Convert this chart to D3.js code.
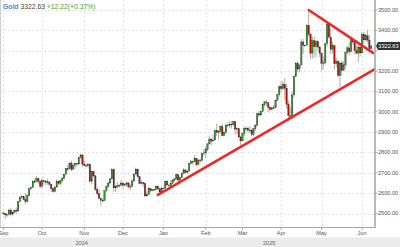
<!DOCTYPE html>
<html>
<head>
<meta charset="utf-8">
<script src="https://cdn.jsdelivr.net/npm/d3@7"></script>
<style>
  body { margin: 0; background: #fff; }
  svg { display: block; font-family: "Liberation Sans", Arial, sans-serif; }
</style>
</head>
<body>
<svg width="400" height="247"></svg>
<script>
// daily spot gold, Sep 2 2024 .. Jun 9 2025 (weekdays)
const firstDay = "2024-09-02";
const lastDay = "2025-06-09";
const firstOpen = 2503;

const closes = [
  // Sep
  2499, 2493, 2495, 2517, 2497, 2506, 2516, 2512, 2558, 2578, 2582, 2569, 2559, 2587, 2622, 2628, 2657, 2657, 2672, 2658, 2634,
  // Oct
  2662, 2657, 2656, 2653, 2644, 2622, 2608, 2630, 2657, 2648, 2662, 2674, 2693, 2721, 2720, 2748, 2717, 2736, 2747, 2743, 2774, 2788, 2743,
  // Nov
  2736, 2736, 2742, 2659, 2706, 2685, 2618, 2598, 2573, 2565, 2563, 2612, 2631, 2650, 2670, 2715, 2626, 2633, 2636, 2638, 2650,
  // Dec
  2639, 2643, 2650, 2632, 2633, 2660, 2694, 2718, 2681, 2648, 2652, 2646, 2586, 2594, 2622, 2612, 2618, 2618, 2634, 2621, 2606, 2624,
  // Jan
  2625, 2658, 2640, 2636, 2649, 2662, 2670, 2690, 2663, 2677, 2696, 2714, 2702, 2708, 2745, 2756, 2754, 2771, 2740, 2763, 2760, 2794, 2798,
  // Feb
  2815, 2842, 2866, 2856, 2861, 2908, 2898, 2904, 2928, 2882, 2898, 2935, 2933, 2939, 2936, 2951, 2915, 2916, 2876, 2857,
  // Mar
  2893, 2918, 2919, 2910, 2910, 2889, 2917, 2934, 2990, 2984, 3001, 3034, 3048, 3044, 3022, 3011, 3019, 3020, 3057, 3084, 3124,
  // Apr
  3113, 3134, 3114, 3037, 2982, 2982, 3083, 3175, 3237, 3210, 3230, 3343, 3327, 3327, 3424, 3381, 3288, 3349, 3319, 3344, 3317, 3288,
  // May
  3238, 3240, 3334, 3431, 3366, 3306, 3325, 3236, 3249, 3177, 3240, 3202, 3230, 3290, 3314, 3295, 3357, 3343, 3301, 3288, 3318, 3289,
  // Jun
  3381, 3353, 3373, 3352, 3310, 3323
];

const highs = [
  2506, 2503, 2500, 2523, 2529, 2510, 2518, 2529, 2560, 2586, 2589, 2584, 2600, 2596, 2625, 2632, 2664, 2670, 2685, 2675, 2660,
  2673, 2665, 2665, 2670, 2659, 2646, 2626, 2636, 2668, 2660, 2667, 2679, 2696, 2722, 2740, 2749, 2758, 2741, 2749, 2748, 2775, 2790, 2789,
  2758, 2746, 2750, 2745, 2710, 2710, 2688, 2627, 2618, 2578, 2575, 2614, 2639, 2656, 2674, 2721, 2721, 2638, 2656, 2646, 2665,
  2651, 2651, 2657, 2655, 2645, 2671, 2696, 2726, 2720, 2685, 2663, 2655, 2654, 2610, 2632, 2625, 2620, 2622, 2639, 2638, 2627, 2629,
  2628, 2661, 2665, 2646, 2664, 2670, 2674, 2697, 2694, 2680, 2698, 2725, 2716, 2714, 2746, 2763, 2759, 2786, 2772, 2765, 2770, 2799, 2817,
  2830, 2845, 2882, 2869, 2886, 2911, 2942, 2909, 2930, 2942, 2905, 2938, 2947, 2955, 2954, 2956, 2951, 2925, 2917, 2883,
  2894, 2928, 2930, 2925, 2930, 2915, 2921, 2940, 2990, 3005, 3004, 3038, 3055, 3057, 3047, 3027, 3025, 3033, 3059, 3087, 3128,
  3149, 3150, 3167, 3136, 3055, 3022, 3099, 3176, 3245, 3245, 3230, 3357, 3357, 3330, 3430, 3500, 3387, 3368, 3372, 3352, 3353, 3327,
  3290, 3269, 3335, 3437, 3435, 3414, 3344, 3318, 3265, 3252, 3245, 3252, 3250, 3295, 3325, 3345, 3366, 3357, 3349, 3326, 3331, 3326,
  3393, 3391, 3385, 3403, 3375, 3329
];

const lows = [
  2493, 2472, 2482, 2490, 2485, 2490, 2500, 2500, 2509, 2555, 2575, 2565, 2546, 2553, 2586, 2613, 2626, 2651, 2655, 2645, 2624,
  2625, 2643, 2640, 2641, 2636, 2605, 2604, 2603, 2628, 2640, 2637, 2652, 2665, 2692, 2707, 2717, 2708, 2716, 2720, 2730, 2740, 2767, 2730,
  2733, 2730, 2725, 2652, 2643, 2677, 2611, 2589, 2572, 2537, 2556, 2562, 2607, 2625, 2643, 2667, 2605, 2606, 2622, 2628, 2633,
  2622, 2633, 2631, 2623, 2614, 2628, 2655, 2690, 2676, 2644, 2642, 2631, 2583, 2583, 2590, 2604, 2609, 2613, 2611, 2614, 2597, 2603,
  2620, 2623, 2636, 2615, 2632, 2645, 2656, 2663, 2656, 2656, 2672, 2695, 2698, 2692, 2705, 2739, 2737, 2752, 2731, 2737, 2748, 2755, 2781,
  2772, 2806, 2839, 2834, 2853, 2860, 2880, 2864, 2894, 2880, 2881, 2890, 2925, 2921, 2917, 2930, 2888, 2890, 2870, 2833,
  2858, 2880, 2905, 2896, 2898, 2880, 2880, 2904, 2930, 2975, 2978, 3000, 3025, 3028, 2999, 3002, 3008, 3013, 3015, 3054, 3076,
  3101, 3105, 3055, 3015, 2956, 2970, 2957, 3071, 3170, 3193, 3194, 3228, 3284, 3320, 3330, 3367, 3260, 3260, 3266, 3268, 3300, 3269,
  3202, 3208, 3232, 3320, 3365, 3283, 3288, 3207, 3219, 3172, 3121, 3175, 3205, 3214, 3283, 3277, 3287, 3330, 3285, 3285, 3245, 3271,
  3290, 3333, 3349, 3340, 3307, 3294
];

const yTicks = [2500, 2600, 2700, 2800, 2900, 3000, 3100, 3200, 3300, 3400, 3500];

const quote = { name: "Gold", last: 3322.63, change: 12.22, pct: 0.37 };

// hand drawn trend lines: [date, price] pairs
const trendLines = [
  [["2024-12-27", 2591], ["2025-06-11", 3210]],
  [["2025-04-22", 3500], ["2025-06-10", 3289]]
];

const svg = d3.select("svg");
const width = +svg.attr("width");
const height = +svg.attr("height");
const plot = { left: 0, right: 375, top: 0, bottom: 227.5 };

const parse = d3.timeParse("%Y-%m-%d");
const isWeekday = d => d.getDay() !== 0 && d.getDay() !== 6;
const dates = d3.timeDay.range(parse(firstDay), d3.timeDay.offset(parse(lastDay), 1)).filter(isWeekday);
const idxOf = s => d3.timeDay.range(parse(firstDay), parse(s)).filter(isWeekday).length;

const candles = dates.map((d, i) => ({
  date: d,
  open: i === 0 ? firstOpen : closes[i - 1],
  close: closes[i],
  high: highs[i],
  low: lows[i]
}));

const x = d3.scaleLinear().domain([0, 200]).range([3.4, 371.2]);
const y = d3.scaleLinear().domain([2500, 3500]).range([213.5, 10]);
const step = x(1) - x(0);

// month ticks on the first trading day of each month
const monthIdx = candles.map((c, i) => i).filter(i => i === 0 || candles[i].date.getMonth() !== candles[i - 1].date.getMonth());
const fmtMonth = d3.timeFormat("%b");

const grid = svg.append("g");
grid.selectAll(".hg").data(yTicks).enter().append("line")
  .attr("x1", plot.left).attr("x2", plot.right)
  .attr("y1", d => Math.round(y(d)) + 0.5).attr("y2", d => Math.round(y(d)) + 0.5)
  .attr("stroke", "#dcdcdc").attr("stroke-dasharray", "2,2").attr("stroke-width", 0.8);
grid.selectAll(".vg").data(monthIdx).enter().append("line")
  .attr("x1", d => Math.round(x(d)) + 0.5).attr("x2", d => Math.round(x(d)) + 0.5)
  .attr("y1", plot.top).attr("y2", plot.bottom)
  .attr("stroke", "#dcdcdc").attr("stroke-dasharray", "2,2").attr("stroke-width", 0.8);

// candles
const cg = svg.append("g");
cg.selectAll(".wick").data(candles).enter().append("line")
  .attr("x1", (d, i) => x(i)).attr("x2", (d, i) => x(i))
  .attr("y1", d => y(d.high)).attr("y2", d => y(d.low))
  .attr("stroke", "#8c8c8c").attr("stroke-width", 0.7);
cg.selectAll(".body").data(candles).enter().append("rect")
  .attr("x", (d, i) => x(i) - step * 0.38)
  .attr("width", step * 0.76)
  .attr("y", d => y(Math.max(d.open, d.close)))
  .attr("height", d => Math.max(0.8, Math.abs(y(d.open) - y(d.close))))
  .attr("fill", d => d.close >= d.open ? "#1fa01f" : "#b80d0d")
  .attr("stroke", "#222").attr("stroke-width", 0.3);

// trend lines
svg.append("clipPath").attr("id", "clip").append("rect")
  .attr("x", plot.left).attr("y", plot.top).attr("width", plot.right - plot.left).attr("height", plot.bottom - plot.top);
svg.append("g").attr("clip-path", "url(#clip)")
  .selectAll("line").data(trendLines).enter().append("line")
  .attr("x1", d => x(idxOf(d[0][0]))).attr("y1", d => y(d[0][1]))
  .attr("x2", d => x(idxOf(d[1][0]))).attr("y2", d => y(d[1][1]))
  .attr("stroke", "#f02626").attr("stroke-width", 2.6).attr("stroke-linecap", "round");

// frame
svg.append("line").attr("x1", 0.5).attr("x2", 0.5).attr("y1", 0).attr("y2", plot.bottom)
  .attr("stroke", "#d0d0d0").attr("stroke-width", 1);
svg.append("line").attr("x1", 0).attr("x2", plot.right).attr("y1", plot.bottom).attr("y2", plot.bottom)
  .attr("stroke", "#a8a8a8").attr("stroke-width", 1.2);
svg.append("line").attr("x1", plot.right).attr("x2", plot.right).attr("y1", 0).attr("y2", plot.bottom + 0.6)
  .attr("stroke", "#a8a8a8").attr("stroke-width", 1.6);

// right axis
const lastY = y(quote.last);
const ya = svg.append("g").selectAll("g").data(yTicks).enter().append("g")
  .attr("transform", d => `translate(${plot.right},${y(d)})`);
ya.append("line").attr("x1", 0).attr("x2", 2.5).attr("stroke", "#999").attr("stroke-width", 0.8);
ya.filter(d => Math.abs(y(d) - lastY) > 7).append("text")
  .attr("x", 3).attr("dy", "0.35em")
  .attr("font-size", 5.6).attr("fill", "#555")
  .text(d => d3.format(".2f")(d));

// last price flag
svg.append("path")
  .attr("d", `M${plot.right + 1},${lastY} L${plot.right + 3},${lastY - 4} H400 V${lastY + 4} H${plot.right + 3} Z`)
  .attr("fill", "#333");
svg.append("text").attr("x", plot.right + 3.3).attr("y", lastY).attr("dy", "0.36em")
  .attr("font-size", 5.6).attr("fill", "#fff").text(d3.format(".2f")(quote.last));

// bottom axis
const xa = svg.append("g").selectAll("g").data(monthIdx).enter().append("g")
  .attr("transform", d => `translate(${x(d)},${plot.bottom})`);
xa.append("line").attr("y1", 0).attr("y2", 2.5).attr("stroke", "#999").attr("stroke-width", 0.8);
xa.append("text").attr("y", 7.8).attr("text-anchor", "middle")
  .attr("font-size", 5.6).attr("fill", "#555")
  .text(d => fmtMonth(candles[d].date));

// year band
svg.append("rect").attr("x", 0).attr("y", 237.5).attr("width", width).attr("height", height - 237.5)
  .attr("fill", "#ebebeb");
const janIdx = monthIdx.find(i => candles[i].date.getMonth() === 0);
const years = [
  { label: String(candles[0].date.getFullYear()), x0: plot.left, x1: x(janIdx) },
  { label: String(candles[janIdx].date.getFullYear()), x0: x(janIdx), x1: plot.right }
];
svg.selectAll(".yr").data(years).enter().append("text")
  .attr("x", d => (d.x0 + d.x1) / 2).attr("y", 244.5).attr("text-anchor", "middle")
  .attr("font-size", 5.6).attr("fill", "#666").text(d => d.label);

// title
const title = svg.append("text").attr("x", 3).attr("y", 8.5).attr("font-size", 6.8);
title.append("tspan").attr("fill", "#4f86d9").attr("font-weight", "bold").text(quote.name + " ");
title.append("tspan").attr("fill", "#444").text(d3.format(".2f")(quote.last) + " ");
title.append("tspan").attr("fill", "#3ca83c")
  .text(`+${d3.format(".2f")(quote.change)}(+${d3.format(".2f")(quote.pct)}%)`);
</script>
</body>
</html>
